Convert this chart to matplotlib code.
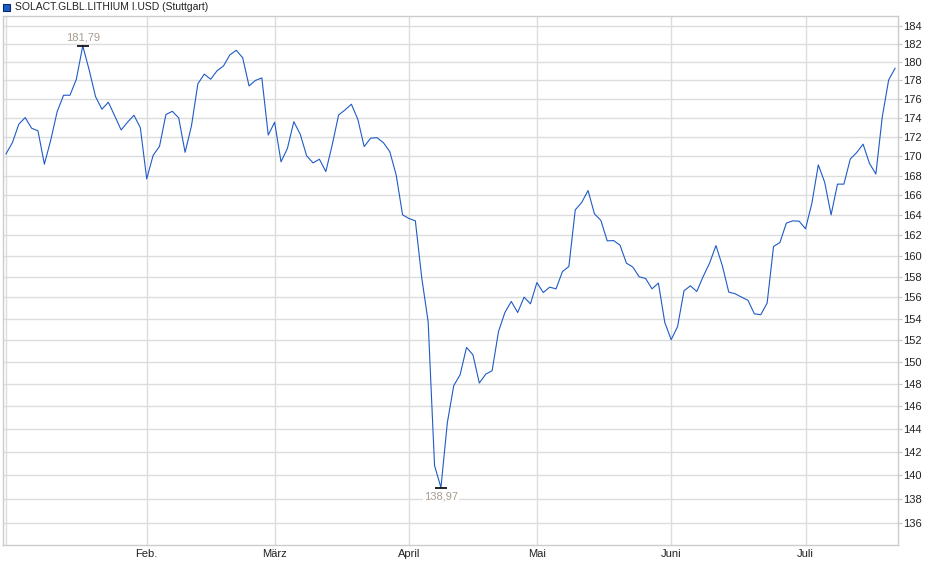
import numpy as np
import pandas as pd
import matplotlib
matplotlib.use('Agg')
import matplotlib.pyplot as plt
from matplotlib.patches import Rectangle
from matplotlib.ticker import FixedLocator, NullLocator, NullFormatter

plt.rcParams['font.family'] = ['Liberation Sans', 'DejaVu Sans']

# trading days at Stuttgart, Jan 2 - Jul 21 2025
holidays = ['2025-01-01', '2025-04-18', '2025-04-21', '2025-05-01']
dates = pd.bdate_range('2025-01-02', '2025-07-21', freq='C', holidays=holidays)

prices = [
    170.23, 171.40, 173.33, 174.03, 172.91, 172.63, 169.17, 171.68, 174.66, 176.41,
    176.41, 178.14, 181.79, 179.15, 176.26, 174.92, 175.66, 174.21, 172.73, 173.54,
    174.28, 172.97, 167.66, 170.08, 171.01, 174.35, 174.70, 174.00, 170.39, 173.17,
    177.65, 178.69, 178.14, 179.06, 179.58, 180.79, 181.30, 180.48, 177.41, 178.01,
    178.28, 172.19, 173.54, 169.41, 170.81, 173.60, 172.28, 170.04, 169.30, 169.68,
    168.41, 171.16, 174.31, 174.84, 175.45, 173.86, 170.99, 171.86, 171.92, 171.40,
    170.47, 168.07, 164.04, 163.67, 163.44, 157.87, 153.71, 140.84, 138.97, 144.56,
    147.85, 148.84, 151.33, 150.66, 148.09, 148.89, 149.20, 152.80, 154.58, 155.62,
    154.58, 156.03, 155.40, 157.42, 156.47, 156.98, 156.82, 158.48, 158.96, 164.53,
    165.27, 166.48, 164.14, 163.49, 161.46, 161.49, 161.04, 159.29, 158.91, 157.97,
    157.81, 156.82, 157.37, 153.64, 152.04, 153.27, 156.63, 157.11, 156.57, 158.00,
    159.29, 161.00, 159.03, 156.51, 156.35, 156.03, 155.73, 154.46, 154.37, 155.47,
    160.91, 161.30, 163.21, 163.44, 163.41, 162.65, 165.21, 169.10, 167.31, 164.04,
    167.13, 167.13, 169.70, 170.37, 171.24, 169.25, 168.16, 174.10, 178.06, 179.33,
]

month_names = ['', 'Feb.', 'März', 'April', 'Mai', 'Juni', 'Juli']
y_ticks = list(range(136, 185, 2))
title = 'SOLACT.GLBL.LITHIUM I.USD (Stuttgart)'

line_color = '#1f5bc6'
grid_color = '#dcdcdc'
label_color = '#a89c90'

fig = plt.figure(figsize=(9.4, 5.79), dpi=100)
ax = fig.add_axes([3 / 940, 34 / 579, 895 / 940, 529 / 579])

x = np.arange(len(dates))
ax.plot(x, prices, color=line_color, lw=0.8, zorder=3)

# first trading day of each month -> gridlines / labels
months = dates.to_period('M')
month_pos = [int(np.where(months == m)[0][0]) for m in months.unique()]
ax.set_xticks(month_pos)
ax.set_xticklabels(month_names)
ax.set_xlim(-0.47, 139.46)

ax.set_yscale('log')
ax.yaxis.set_major_locator(FixedLocator(y_ticks))
ax.yaxis.set_minor_locator(NullLocator())
ax.yaxis.set_minor_formatter(NullFormatter())
ax.set_yticklabels([str(t) for t in y_ticks])
ax.set_ylim(134.2, 185.12)
ax.yaxis.tick_right()

ax.tick_params(axis='y', direction='out', length=3, color='#c8c8c8', labelsize=8,
               pad=1, labelcolor='#222222')
ax.tick_params(axis='x', length=0, labelsize=8, pad=3, labelcolor='#222222')
ax.grid(True, color=grid_color, lw=1)
ax.set_axisbelow(True)
for s in ax.spines.values():
    s.set_color('#cccccc')
    s.set_linewidth(1)

# high / low markers
imax = int(np.argmax(prices))
imin = int(np.argmin(prices))
ax.plot([imax, imin], [prices[imax], prices[imin]], ls='none', marker='_', ms=9,
        mew=1.2, color='black', zorder=4)
ax.annotate(f'{prices[imax]:.2f}'.replace('.', ','), (imax, prices[imax]),
            xytext=(0, 2.5), textcoords='offset points', ha='center', va='bottom',
            fontsize=8, color=label_color, zorder=5)
ax.annotate(f'{prices[imin]:.2f}'.replace('.', ','), (imin, prices[imin]),
            xytext=(0, -3), textcoords='offset points', ha='center', va='top',
            fontsize=8, color=label_color, zorder=5,
            bbox=dict(boxstyle='square,pad=0.1', fc='white', ec='none'))

# legend square + name
fig.patches.append(Rectangle((3 / 940, 1 - 11 / 579), 7 / 940, 7 / 579,
                             transform=fig.transFigure, facecolor=line_color,
                             edgecolor='#0b2a6b', lw=0.8))
fig.text(15 / 940, 1 - 7 / 579, title, va='center', ha='left', fontsize=7.5,
         color='#222222')

fig.savefig('out.png', dpi=100)
